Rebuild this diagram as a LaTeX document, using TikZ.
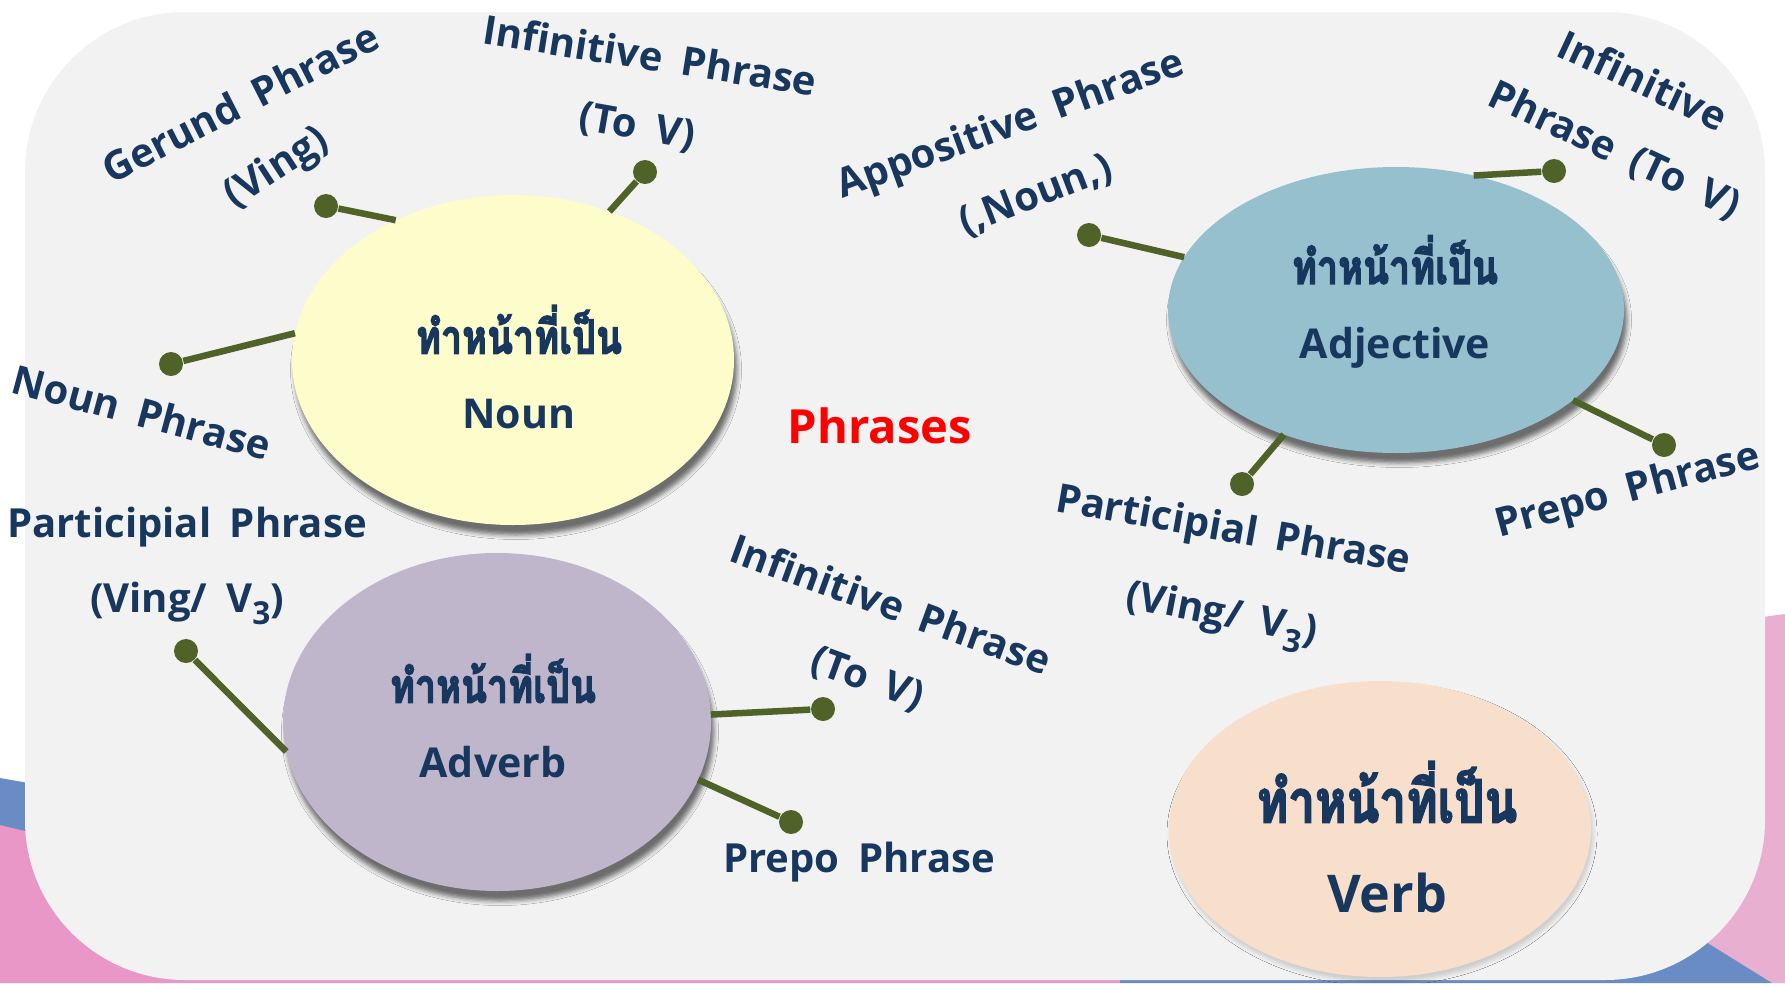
\documentclass[tikz,border=0pt]{standalone}
\usepackage{fontspec}
\setmainfont{Open Sans}
\newfontfamily\thaifont[Script=Thai, Scale=1.15, FakeBold=2.5, FakeStretch=0.8]{Loma}
\newfontfamily\lblfont[WordSpace=1.8]{Open Sans}
\usetikzlibrary{shapes.geometric,shadows.blur}

\definecolor{navy}{HTML}{17375E}
\definecolor{leaf}{HTML}{4F6228}
\definecolor{panel}{HTML}{F2F2F2}
\definecolor{pinkL}{HTML}{E897C7}
\definecolor{pinkR}{HTML}{E8AFD0}
\definecolor{slide}{HTML}{6A8CC4}

\begin{document}
\begin{tikzpicture}[
  x=0.1mm, y=-0.1mm,
  role/.style={ellipse, inner sep=0pt, outer sep=0pt,
               blur shadow={shadow xshift=0.3mm, shadow yshift=-1.0mm,
                            shadow blur radius=0.45mm, shadow opacity=55}},
  roletext/.style={text=navy, align=center, inner sep=0pt,
                   font=\bfseries\fontsize{11.7}{21.3}\selectfont},
  tag/.style={text=navy, inner sep=0pt,
              font=\lblfont\bfseries\fontsize{11.4}{13}\selectfont},
  pin/.style={circle, fill=leaf, inner sep=0pt, minimum size=2.4mm},
  stem/.style={draw=leaf, line width=0.65mm},
]
\useasboundingbox (0,0) rectangle (1785,983);

% ---------------- slide background ----------------
\fill[white] (0,0) rectangle (1785,983);
\fill[pinkL] (0,825) -- (300,870) -- (1120,975) -- (1120,983) -- (0,983) -- cycle;
\fill[slide] (0,778) -- (80,792) -- (80,844) -- (0,825) -- cycle;
\fill[pinkR] (1740,620) -- (1785,614) -- (1785,983) -- (1772,983) -- (1690,932) -- (1700,640) -- cycle;
\fill[slide] (1120,975) -- (1690,932) -- (1772,983) -- (1120,983) -- cycle;
\fill[panel, rounded corners=16mm] (25,12) rectangle (1765,980);

% ---------------- the four roles ----------------
\node[role, fill={rgb,255:red,253;green,252;blue,203}, minimum width=44.2mm, minimum height=33mm]
  (noun) at (513,360) {};
\node[role, fill={rgb,255:red,150;green,192;blue,206}, minimum width=45.6mm, minimum height=28.6mm]
  (adj) at (1396,310) {};
\node[role, fill={rgb,255:red,191;green,182;blue,203}, minimum width=42.8mm, minimum height=33.8mm]
  (adv) at (497,722) {};
\node[role, fill={rgb,255:red,248;green,223;blue,204}, minimum width=42.2mm, minimum height=29.6mm,
      blur shadow={shadow xshift=0.2mm, shadow yshift=-0.5mm, shadow blur radius=0.4mm, shadow opacity=8}]
  (verb) at (1380,829) {};

\node[roletext] (nounT) at (519,367) {{\thaifont ทำหน้าที่เป็น}\\Noun};
\node[roletext] (adjT)  at (1395,302) {{\thaifont ทำหน้าที่เป็น}\\Adjective};
\node[roletext] (advT)  at (493,716) {{\thaifont ทำหน้าที่เป็น}\\Adverb};
\node[roletext, font=\bfseries\fontsize{14.8}{25.6}\selectfont]
  (verbT) at (1387,837) {{\thaifont ทำหน้าที่เป็น}\\Verb};

\node[text=red, font=\bfseries\fontsize{13.4}{16}\selectfont] (title) at (880,426) {Phrases};

% ---------------- Noun ----------------
\node[tag, rotate=27] (nGer)  at (240,102) {Gerund Phrase};
\node[tag, rotate=33] (nGerV) at (277,169) {(Ving)};
\node[tag, rotate=-9] (nInf)  at (650,55)  {Infinitive Phrase};
\node[tag, rotate=-10] (nInfV) at (637,128) {(To V)};
\node[tag, rotate=-15] (nNP)  at (142,412) {Noun Phrase};

\node[pin] (nGerP) at (326,206) {};
\node[pin] (nInfP) at (645,172) {};
\node[pin] (nNPP)  at (171,364) {};
\draw[stem] (noun.130) -- (nGerP);
\draw[stem] (noun.57)  -- (nInfP);
\draw[stem] (noun.173) -- (nNPP);

% ---------------- Adjective ----------------
\node[tag, rotate=20]  (aApp)  at (1011,126) {Appositive Phrase};
\node[tag, rotate=21]  (aAppN) at (1036,196) {(,Noun,)};
\node[tag, rotate=-25] (aInf)  at (1643,80)  {Infinitive};
\node[tag, rotate=-25] (aInfV) at (1614,151) {Phrase (To V)};
\node[tag, rotate=15]  (aPrep) at (1628,492) {Prepo Phrase};
\node[tag, rotate=-10] (aPart) at (1233,532) {Participial Phrase};
\node[tag, rotate=-11] (aPartV) at (1221,617) {(Ving/ V\raisebox{-0.55ex}{\small 3})};

\node[pin] (aAppP)  at (1089,235) {};
\node[pin] (aInfP)  at (1554,171) {};
\node[pin] (aPrepP) at (1664,445) {};
\node[pin] (aPartP) at (1242,484) {};
\draw[stem] (adj.166)  -- (aAppP);
\draw[stem] (adj.60)   -- (aInfP);
\draw[stem] (adj.-27)  -- (aPrepP);
\draw[stem] (adj.-132) -- (aPartP);

% ---------------- Adverb ----------------
\node[tag] (dPart)  at (187,527) {Participial Phrase};
\node[tag] (dPartV) at (187,603) {(Ving/ V\raisebox{-0.55ex}{\small 3})};
\node[tag, rotate=-20] (dInf)  at (891,604) {Infinitive Phrase};
\node[tag, rotate=-20] (dInfV) at (867,680) {(To V)};
\node[tag] (dPrep) at (859,862) {Prepo Phrase};

\node[pin] (dPartP) at (186,651) {};
\node[pin] (dInfP)  at (823,709) {};
\node[pin] (dPrepP) at (791,822) {};
\draw[stem] (adv.-172) -- (dPartP);
\draw[stem] (adv.2)    -- (dInfP);
\draw[stem] (adv.-16)  -- (dPrepP);

\end{tikzpicture}
\end{document}
